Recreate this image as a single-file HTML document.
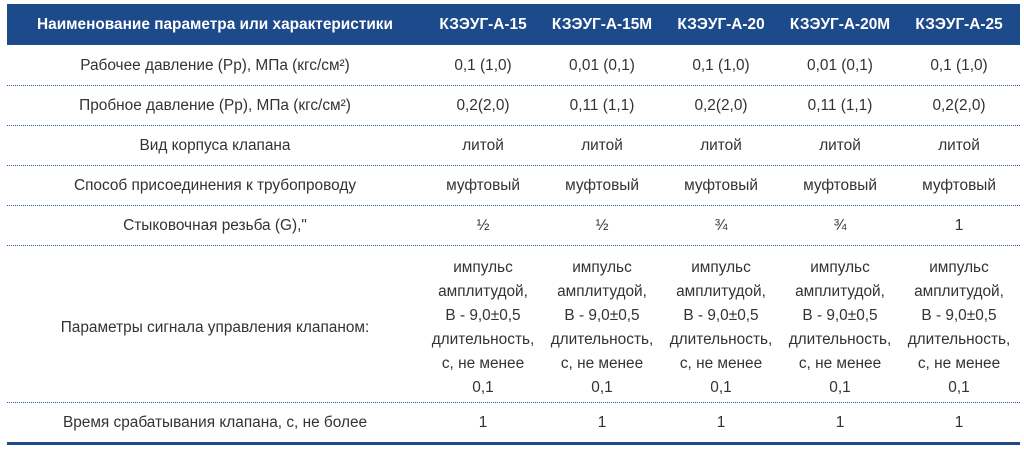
<!DOCTYPE html>
<html><head><meta charset="utf-8"><style>
body{margin:0;width:1024px;height:450px;background:#fff;font-family:"Liberation Sans",Arial,sans-serif;overflow:hidden;position:relative}
.hd{position:absolute;left:7px;top:4px;width:1013px;height:41px;background:#1d4a8b}
.t{position:absolute;transform:translate(-50%,-50%);white-space:nowrap;font-size:15.4px;color:#333;text-align:center}
.h{color:#fff;font-weight:bold;font-size:15.4px}
.l{position:absolute;left:7px;width:1013px;height:0;border-top:1px dotted #2d5aa0}
.ml{line-height:24px}
</style></head><body>
<div class="hd"></div>
<div class="t h" style="left:215px;top:25px">Наименование параметра или характеристики</div>
<div class="t h" style="left:483px;top:25px">КЗЭУГ-А-15</div>
<div class="t h" style="left:602px;top:25px">КЗЭУГ-А-15М</div>
<div class="t h" style="left:721px;top:25px">КЗЭУГ-А-20</div>
<div class="t h" style="left:840px;top:25px">КЗЭУГ-А-20М</div>
<div class="t h" style="left:959px;top:25px">КЗЭУГ-А-25</div>

<div class="t" style="left:215px;top:66px">Рабочее давление (Рр), МПа (кгс/см²)</div>
<div class="t" style="left:483px;top:66px">0,1 (1,0)</div>
<div class="t" style="left:602px;top:66px">0,01 (0,1)</div>
<div class="t" style="left:721px;top:66px">0,1 (1,0)</div>
<div class="t" style="left:840px;top:66px">0,01 (0,1)</div>
<div class="t" style="left:959px;top:66px">0,1 (1,0)</div>
<div class="l" style="top:85px"></div>

<div class="t" style="left:215px;top:106px">Пробное давление (Рр), МПа (кгс/см²)</div>
<div class="t" style="left:483px;top:106px">0,2(2,0)</div>
<div class="t" style="left:602px;top:106px">0,11 (1,1)</div>
<div class="t" style="left:721px;top:106px">0,2(2,0)</div>
<div class="t" style="left:840px;top:106px">0,11 (1,1)</div>
<div class="t" style="left:959px;top:106px">0,2(2,0)</div>
<div class="l" style="top:125px"></div>

<div class="t" style="left:215px;top:146px">Вид корпуса клапана</div>
<div class="t" style="left:483px;top:146px">литой</div>
<div class="t" style="left:602px;top:146px">литой</div>
<div class="t" style="left:721px;top:146px">литой</div>
<div class="t" style="left:840px;top:146px">литой</div>
<div class="t" style="left:959px;top:146px">литой</div>
<div class="l" style="top:165px"></div>

<div class="t" style="left:215px;top:186px">Способ присоединения к трубопроводу</div>
<div class="t" style="left:483px;top:186px">муфтовый</div>
<div class="t" style="left:602px;top:186px">муфтовый</div>
<div class="t" style="left:721px;top:186px">муфтовый</div>
<div class="t" style="left:840px;top:186px">муфтовый</div>
<div class="t" style="left:959px;top:186px">муфтовый</div>
<div class="l" style="top:205px"></div>

<div class="t" style="left:215px;top:226px">Стыковочная резьба (G),"</div>
<div class="t" style="left:483px;top:226px">½</div>
<div class="t" style="left:602px;top:226px">½</div>
<div class="t" style="left:721px;top:226px">¾</div>
<div class="t" style="left:840px;top:226px">¾</div>
<div class="t" style="left:959px;top:226px">1</div>
<div class="l" style="top:245px"></div>

<div class="t" style="left:215px;top:328px">Параметры сигнала управления клапаном:</div>
<div class="t ml" style="left:483px;top:328px">импульс<br>амплитудой,<br>В - 9,0±0,5<br>длительность,<br>с, не менее<br>0,1</div>
<div class="t ml" style="left:602px;top:328px">импульс<br>амплитудой,<br>В - 9,0±0,5<br>длительность,<br>с, не менее<br>0,1</div>
<div class="t ml" style="left:721px;top:328px">импульс<br>амплитудой,<br>В - 9,0±0,5<br>длительность,<br>с, не менее<br>0,1</div>
<div class="t ml" style="left:840px;top:328px">импульс<br>амплитудой,<br>В - 9,0±0,5<br>длительность,<br>с, не менее<br>0,1</div>
<div class="t ml" style="left:959px;top:328px">импульс<br>амплитудой,<br>В - 9,0±0,5<br>длительность,<br>с, не менее<br>0,1</div>
<div class="l" style="top:402px"></div>

<div class="t" style="left:215px;top:423px">Время срабатывания клапана, с, не более</div>
<div class="t" style="left:483px;top:423px">1</div>
<div class="t" style="left:602px;top:423px">1</div>
<div class="t" style="left:721px;top:423px">1</div>
<div class="t" style="left:840px;top:423px">1</div>
<div class="t" style="left:959px;top:423px">1</div>
<div style="position:absolute;left:7px;top:442px;width:1013px;height:3px;background:#1d4a8b"></div>
</body></html>
